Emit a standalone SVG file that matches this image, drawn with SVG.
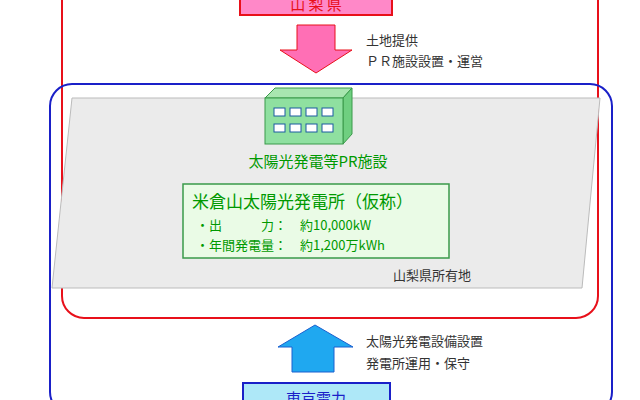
<svg xmlns="http://www.w3.org/2000/svg" width="640" height="400" viewBox="0 0 640 400">
<style>
text{font-family:"Noto Sans CJK JP","Liberation Sans",sans-serif}
.lbl{font-size:13px;fill:#333}
.g{fill:#009900}
</style>
<rect width="640" height="400" fill="#fff"/>
<g id="yamanashi-frame"><rect x="62" y="-30" width="536" height="348" rx="22" fill="none" stroke="#e8101a" stroke-width="2"/></g>
<g id="tepco-frame"><rect x="50" y="84" width="562" height="330" rx="22" fill="none" stroke="#1a20c8" stroke-width="2"/></g>
<g id="land">
<polygon points="72,98 600,98 582,288 52,288" fill="#ebebeb" stroke="#bbb"/>
<text x="393" y="280" class="lbl" font-family="Liberation Serif,Noto Sans CJK JP,serif">山梨県所有地</text>
</g>
<g id="pr-facility">
<polygon points="265,98 275,88 352,88 343,98" fill="#a8e6b0" stroke="#3a9a4a"/>
<polygon points="343,98 352,88 352,134 343,144" fill="#6fcf80" stroke="#3a9a4a"/>
<rect x="265" y="98" width="78" height="46" fill="#8fe0a0" stroke="#3a9a4a"/>
<g fill="#fff" stroke="#1a5aa0" stroke-width="1">
<rect x="274" y="108" width="11" height="8"/><rect x="290" y="108" width="11" height="8"/><rect x="306" y="108" width="11" height="8"/><rect x="322" y="108" width="11" height="8"/>
<rect x="274" y="124" width="11" height="8"/><rect x="290" y="124" width="11" height="8"/><rect x="306" y="124" width="11" height="8"/><rect x="322" y="124" width="11" height="8"/>
</g>
<text x="318" y="167" text-anchor="middle" font-size="15" class="g">太陽光発電等PR施設</text>
</g>
<g id="plant">
<rect x="183" y="184" width="266" height="74" fill="#eafbe6" stroke="#3a9a4a" stroke-width="1.5"/>
<text x="192" y="208" font-size="17" class="g">米倉山太陽光発電所（仮称）</text>
<text x="196" y="230" font-size="13" class="g">・出　　　力：　約10,000kW</text>
<text x="196" y="250" font-size="13" class="g">・年間発電量：　約1,200万kWh</text>
</g>
<g id="yamanashi"><rect x="240" y="-12" width="152" height="27" fill="#ff88c8" stroke="#e8101a" stroke-width="2"/>
<text x="316" y="10" text-anchor="middle" font-size="15" fill="#e8101a">山 梨 県</text></g>
<g id="tepco"><rect x="243" y="383" width="147" height="30" fill="#aee8f8" stroke="#1a20c8" stroke-width="2"/>
<text x="316" y="404" text-anchor="middle" font-size="15" fill="#1a20c8">東京電力</text></g>
<g id="connectors">
<polygon points="297,25 335,25 335,50 352,50 316,73 280,50 297,50" fill="#ff6fb5" stroke="#e8101a"/>
<polygon points="292,372 334,372 334,347 353,347 315,325 278,347 292,347" fill="#1fa8f0" stroke="#1a60d0"/>
<text x="366" y="45" class="lbl" font-family="Liberation Serif,Noto Sans CJK JP,serif">土地提供</text>
<text x="366" y="66" class="lbl" font-family="Liberation Serif,Noto Sans CJK JP,serif">ＰＲ施設設置・運営</text>
<text x="366" y="346" class="lbl" font-family="Liberation Serif,Noto Sans CJK JP,serif">太陽光発電設備設置</text>
<text x="366" y="368" class="lbl" font-family="Liberation Serif,Noto Sans CJK JP,serif">発電所運用・保守</text>
</g>
</svg>
